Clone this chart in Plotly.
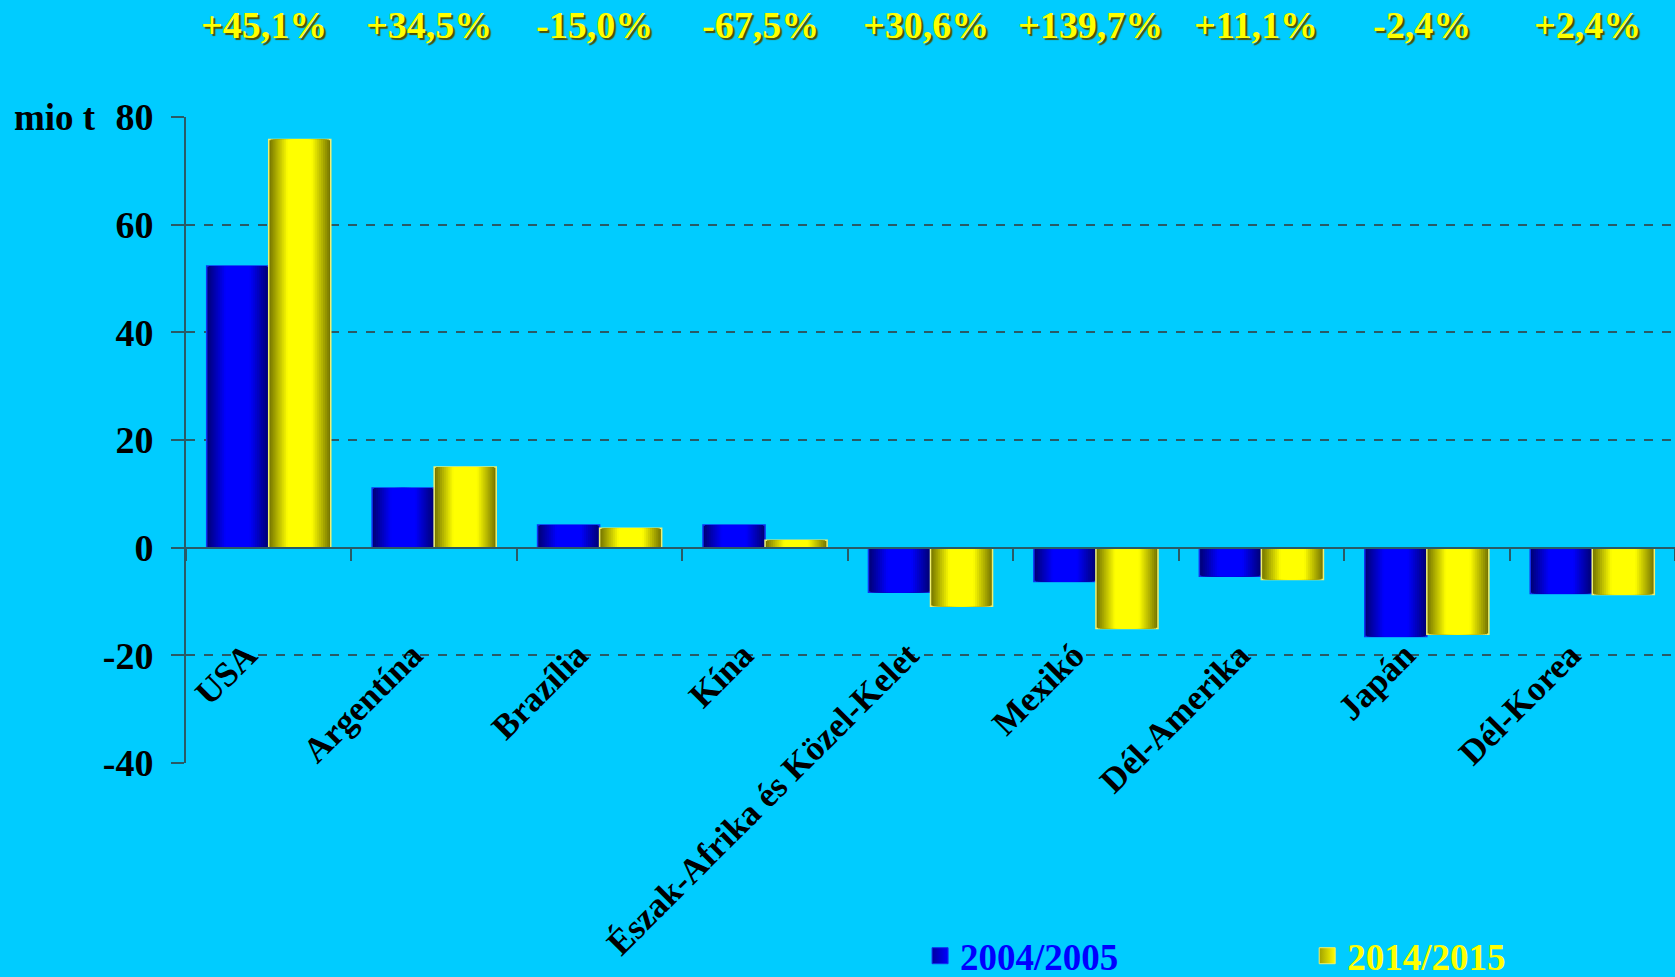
import plotly.graph_objects as go

# === Data ===
categories = ['USA', 'Argentína', 'Brazília', 'Kína', 'Észak-Afrika és Közel-Kelet',
              'Mexikó', 'Dél-Amerika', 'Japán', 'Dél-Korea']
values_2004 = [52.3, 11.1, 4.2, 4.2, -8.3, -6.3, -5.3, -16.5, -8.5]
values_2014 = [75.8, 15.0, 3.6, 1.4, -10.9, -15.0, -5.9, -16.1, -8.7]
change_labels = ['+45,1%', '+34,5%', '-15,0%', '-67,5%', '+30,6%',
                 '+139,7%', '+11,1%', '-2,4%', '+2,4%']
y_ticks = [-40, -20, 0, 20, 40, 60, 80]
y_tick_text = ['-40', '-20', '0', '20', '40', '60', '80']

# === Style ===
BG = '#00CCFF'
GRID = '#2A5A66'
FONT = 'Liberation Serif'
BAR_W = 0.375
N_LAYERS = 16


def mix(c1, c2, t):
    return '#%02X%02X%02X' % tuple(round(a + (b - a) * t) for a, b in zip(c1, c2))


series = [
    ('2004/2005', values_2004, -BAR_W / 2, (0, 0, 0x78), (0, 0, 0xFF), '#0000FF', '#1030F0', 'legend'),
    ('2014/2015', values_2014, BAR_W / 2, (0x78, 0x78, 0x00), (0xFF, 0xFF, 0x00), '#FFFF00', '#F0F070', 'legend2'),
]

fig = go.Figure()

# fake horizontal gradient: overlaid bars getting narrower and brighter
for name, vals, center, dark, bright, text_col, edge_col, leg in series:
    for k in range(N_LAYERS):
        w = BAR_W * (1 - k / N_LAYERS)
        t = min(1.0, 1.6 * k / (N_LAYERS - 1))
        fig.add_trace(go.Bar(
            x=categories, y=vals,
            width=w, offset=center - w / 2,
            marker=dict(color=mix(dark, bright, t),
                        line=dict(color=edge_col if k == 0 else 'rgba(0,0,0,0)',
                                  width=1.5 if k == 0 else 0)),
            showlegend=False,
            hoverinfo='skip',
        ))

# legend entries with gradient squares, one legend each
for name, vals, center, dark, bright, text_col, edge_col, leg in series:
    fig.add_trace(go.Scatter(
        x=[None], y=[None], mode='markers',
        marker=dict(symbol='square', size=22, color=mix(dark, bright, 0.3),
                    gradient=dict(type='horizontal', color=mix(dark, bright, 1.0)),
                    line=dict(color=edge_col, width=1)),
        name=f"<span style='color:{text_col}'>{name}</span>",
        legend=leg,
        hoverinfo='skip',
    ))

# change labels above each category
annotations = []
for cat, lab in zip(categories, change_labels):
    annotations.append(dict(
        x=cat, y=1.142, xref='x', yref='paper', text=lab, showarrow=False,
        xshift=-5, yanchor='middle',
        font=dict(family=FONT, size=38, color='#FFFF00', weight='bold',
                  shadow='2px 2px 1px #505000'),
    ))

annotations.append(dict(
    x=-0.117, y=1.0, xref='paper', yref='paper', text='mio t', showarrow=False,
    xanchor='left', yanchor='middle',
    font=dict(family=FONT, size=37, color='black', weight='bold'),
))

legend_style = dict(orientation='h', y=-0.347, xanchor='left', yanchor='bottom',
                    bgcolor='rgba(0,0,0,0)', itemsizing='trace',
                    font=dict(family=FONT, size=37, weight='bold'))

# === Layout ===
fig.update_layout(
    width=1675, height=977,
    paper_bgcolor=BG, plot_bgcolor=BG,
    barmode='overlay',
    margin=dict(l=186, r=0, t=117, b=214, autoexpand=False),
    showlegend=True,
    legend=dict(x=0.493, **legend_style),
    legend2=dict(x=0.753, **legend_style),
    annotations=annotations,
    xaxis=dict(
        type='category', anchor='free', position=1 / 3,
        range=[-0.5, 8.5],
        showline=True, linecolor=GRID, linewidth=2,
        ticks='outside', tickson='boundaries', ticklen=12, tickcolor=GRID, tickwidth=2,
        tickangle=-45, ticklabelstandoff=72, ticklabelshift=-22,
        tickfont=dict(family=FONT, size=35, color='black', weight='bold'),
        showgrid=False, automargin=False,
    ),
    yaxis=dict(
        range=[-40, 80], tickvals=y_ticks, ticktext=y_tick_text,
        showline=True, linecolor=GRID, linewidth=2,
        ticks='outside', ticklen=13, tickcolor=GRID, tickwidth=2,
        showgrid=True, gridcolor=GRID, griddash='dash', gridwidth=1.5,
        zeroline=False, ticklabelstandoff=10,
        tickfont=dict(family=FONT, size=38, color='black', weight='bold'),
        automargin=False,
    ),
)

fig.write_html("out.html", config={'displayModeBar': False},
               post_script="document.body.style.margin='0';")
